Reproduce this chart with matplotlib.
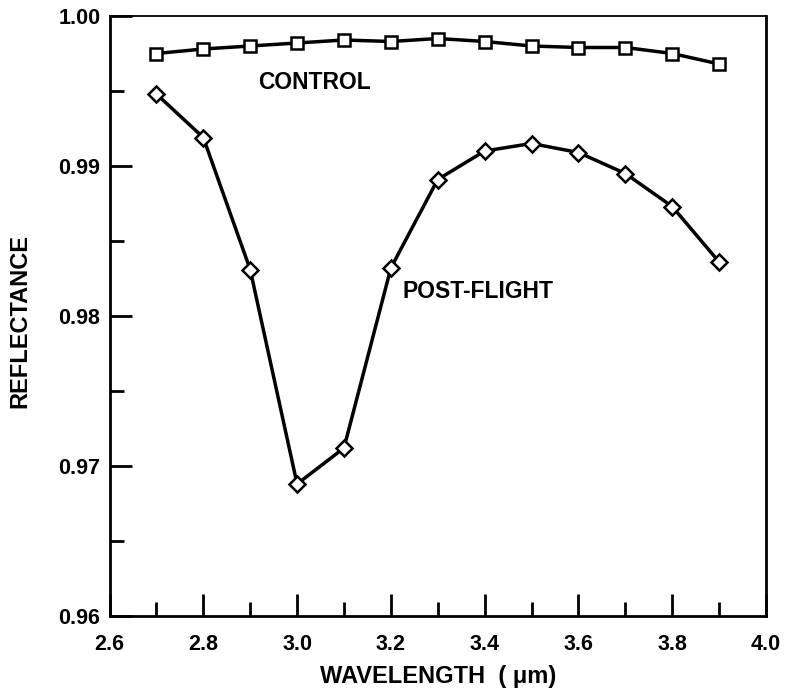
import matplotlib
matplotlib.use("Agg")
import matplotlib.pyplot as plt
from matplotlib.ticker import MultipleLocator

wavelength = [2.7, 2.8, 2.9, 3.0, 3.1, 3.2, 3.3, 3.4, 3.5, 3.6, 3.7, 3.8, 3.9]
control = [0.9975, 0.9978, 0.9980, 0.9982, 0.9984, 0.9983, 0.9985,
           0.9983, 0.9980, 0.9979, 0.9979, 0.9975, 0.9968]
post_flight = [0.9948, 0.9919, 0.9831, 0.9688, 0.9712, 0.9832, 0.9891,
               0.9910, 0.9915, 0.9909, 0.9895, 0.9873, 0.9836]

plt.rcParams['font.family'] = ['Liberation Sans', 'DejaVu Sans']
plt.rcParams['font.weight'] = 'bold'

W, H = 789, 694
fig = plt.figure(figsize=(W / 100, H / 100), dpi=100)
ax = fig.add_axes([109.5 / W, 1 - 616 / H, 656.5 / W, 600 / H])

ax.plot(wavelength, control, color='black', lw=2.5, marker='s', ms=8.5,
        mfc='white', mec='black', mew=1.8)
ax.plot(wavelength, post_flight, color='black', lw=2.5, marker='D', ms=8,
        mfc='white', mec='black', mew=1.8)

ax.set_xlim(2.6, 4.0)
ax.set_ylim(0.96, 1.00)
ax.xaxis.set_major_locator(MultipleLocator(0.2))
ax.xaxis.set_minor_locator(MultipleLocator(0.1))
ax.yaxis.set_major_locator(MultipleLocator(0.01))
ax.yaxis.set_minor_locator(MultipleLocator(0.005))
ax.xaxis.set_major_formatter(plt.FuncFormatter(lambda v, p: f"{v:.1f}"))
ax.yaxis.set_major_formatter(plt.FuncFormatter(lambda v, p: f"{v:.2f}"))

ax.tick_params(which='major', direction='in', length=16, width=2,
               labelsize=15.5, top=False, right=False)
ax.tick_params(which='minor', direction='in', length=10, width=2,
               top=False, right=False)
ax.tick_params(axis='x', which='major', pad=13)
ax.tick_params(axis='y', which='major', pad=6.5)
for lab in ax.get_xticklabels() + ax.get_yticklabels():
    lab.set_fontweight('bold')

for s in ax.spines.values():
    s.set_linewidth(2)
ax.spines['top'].set_linewidth(1.3)

ax.text(3.038, 0.99555, 'CONTROL', fontsize=16.5, fontweight='bold',
        ha='center', va='center')
ax.text(3.386, 0.9816, 'POST-FLIGHT', fontsize=16.5, fontweight='bold',
        ha='center', va='center')

fig.text(438 / W, 1 - 676 / H, 'WAVELENGTH  ( μm)', fontsize=17,
         fontweight='bold', ha='center', va='center')
fig.text(20 / W, 1 - 321 / H, 'REFLECTANCE', fontsize=17, fontweight='bold',
         ha='center', va='center', rotation=90)

fig.savefig('out.png', dpi=100)
